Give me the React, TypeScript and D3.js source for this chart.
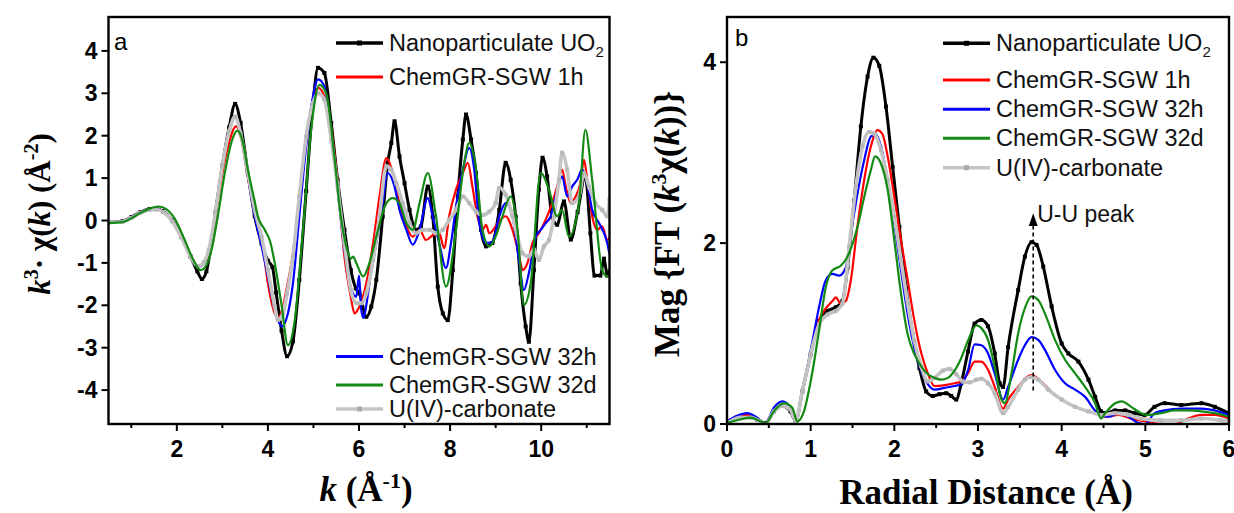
import React from 'react';
import * as d3 from 'd3';

type Pt = [number, number];

// ---------- Series meta ----------
const seriesLabels = ['Nanoparticulate UO', 'ChemGR-SGW 1h', 'ChemGR-SGW 32h', 'ChemGR-SGW 32d', 'U(IV)-carbonate'];
const seriesColors = ['#000000', '#ff0000', '#0000ff', '#138a13', '#c4c4c4'];
const seriesWidths = [3, 2.2, 2.2, 2.2, 3.6];

// ---------- Panel a: k^3 chi(k) ----------
const chiBlack: Pt[] = [[0.5,-0.04],[0.8,-0.02],[1.0,0.08],[1.2,0.2],[1.4,0.27],[1.55,0.28],[1.7,0.22],[1.9,0.0],[2.1,-0.38],[2.3,-0.85],[2.45,-1.2],[2.55,-1.38],[2.65,-1.2],[2.75,-0.6],[2.85,0.2],[3.0,1.3],[3.15,2.2],[3.28,2.75],[3.4,2.3],[3.56,1.12],[3.71,0.1],[3.86,-0.54],[4.0,-0.95],[4.1,-1.1],[4.18,-1.7],[4.3,-2.6],[4.42,-3.2],[4.55,-2.85],[4.69,-1.4],[4.84,0.7],[4.99,2.77],[5.1,3.6],[5.24,3.48],[5.39,2.3],[5.53,0.96],[5.68,-0.22],[5.82,-1.17],[5.93,-1.6],[6.01,-1.72],[6.16,-2.27],[6.27,-2.03],[6.38,-1.4],[6.52,0.09],[6.63,1.36],[6.71,1.83],[6.78,2.34],[6.89,1.51],[7.0,0.88],[7.11,0.25],[7.25,-0.22],[7.36,-0.14],[7.51,0.8],[7.62,0.09],[7.73,-1.56],[7.84,-2.19],[7.95,-2.35],[8.06,-1.17],[8.17,0.57],[8.28,1.91],[8.35,2.5],[8.46,1.91],[8.57,1.12],[8.68,-0.22],[8.79,-0.61],[8.93,-0.53],[9.08,0.25],[9.22,1.36],[9.33,0.96],[9.44,0.09],[9.55,-1.48],[9.66,-2.5],[9.73,-2.86],[9.84,-1.17],[9.95,0.73],[10.03,1.48],[10.13,1.04],[10.24,0.1],[10.35,-0.1],[10.5,0.45],[10.65,-0.45],[10.8,0.2],[10.97,1.05],[11.08,-0.3],[11.17,-1.3],[11.3,-1.3],[11.38,-0.9],[11.45,-1.3],[11.5,-1.2]];
const chiRed: Pt[] = [[0.5,-0.04],[0.8,-0.02],[1.0,0.08],[1.2,0.2],[1.4,0.27],[1.55,0.28],[1.7,0.22],[1.9,0.0],[2.1,-0.38],[2.3,-0.82],[2.47,-1.08],[2.6,-1.0],[2.7,-0.75],[2.85,0.1],[3.0,1.1],[3.15,1.85],[3.3,2.22],[3.42,1.9],[3.56,1.0],[3.71,0.3],[3.86,-0.38],[4.0,-1.48],[4.15,-2.19],[4.22,-2.3],[4.33,-2.03],[4.42,-1.56],[4.55,-0.77],[4.69,0.6],[4.84,1.98],[4.99,2.8],[5.1,3.13],[5.24,2.93],[5.39,2.2],[5.53,0.9],[5.68,-0.85],[5.82,-1.8],[5.9,-2.19],[6.01,-2.03],[6.16,-1.48],[6.31,-0.53],[6.45,0.57],[6.6,1.47],[6.74,1.12],[6.89,0.41],[7.04,-0.14],[7.18,-0.38],[7.33,-0.22],[7.47,-0.46],[7.62,-0.35],[7.76,-0.3],[7.87,-0.65],[7.98,0.1],[8.13,0.73],[8.28,1.12],[8.39,1.36],[8.49,0.8],[8.6,0.1],[8.71,-0.22],[8.79,-0.1],[8.86,-0.3],[9.0,-0.14],[9.11,0.02],[9.22,0.1],[9.37,-0.22],[9.52,-0.85],[9.59,-1.17],[9.7,-1.0],[9.81,-0.53],[9.95,-0.3],[10.1,0.02],[10.24,0.41],[10.35,0.8],[10.46,1.2],[10.54,0.8],[10.65,0.41],[10.76,0.57],[10.86,0.88],[10.94,1.43],[11.01,0.96],[11.12,0.1],[11.23,-0.22],[11.34,-0.14],[11.45,-0.46],[11.5,-0.4]];
const chiBlue: Pt[] = [[0.5,-0.04],[0.8,-0.02],[1.0,0.08],[1.2,0.2],[1.4,0.27],[1.55,0.28],[1.7,0.22],[1.9,0.0],[2.1,-0.38],[2.3,-0.82],[2.47,-1.1],[2.6,-1.0],[2.7,-0.7],[2.85,0.2],[3.0,1.3],[3.15,2.1],[3.28,2.45],[3.4,2.1],[3.56,1.05],[3.71,0.1],[3.86,-0.6],[4.0,-1.32],[4.15,-2.1],[4.25,-2.42],[4.3,-2.5],[4.42,-2.27],[4.55,-1.48],[4.69,0.1],[4.84,1.75],[4.99,2.93],[5.1,3.33],[5.24,3.17],[5.39,2.14],[5.53,0.73],[5.68,-0.69],[5.8,-1.5],[5.94,-1.8],[6.0,-1.3],[6.05,-2.1],[6.1,-2.3],[6.16,-2.0],[6.23,-1.48],[6.38,-0.53],[6.52,0.41],[6.63,1.12],[6.78,0.8],[6.89,0.25],[7.04,-0.22],[7.18,-0.57],[7.33,-0.22],[7.51,0.53],[7.62,0.09],[7.76,-0.53],[7.91,-1.12],[8.02,-0.53],[8.13,0.33],[8.28,1.2],[8.42,1.71],[8.53,1.2],[8.64,-0.06],[8.79,-0.53],[8.93,-0.5],[9.08,0.1],[9.22,0.41],[9.37,0.1],[9.52,-1.0],[9.62,-1.64],[9.73,-1.24],[9.88,-0.38],[9.99,-0.22],[10.1,-0.06],[10.21,0.1],[10.32,0.57],[10.46,1.04],[10.57,0.57],[10.68,0.8],[10.79,0.96],[10.9,1.2],[11.01,0.88],[11.12,0.25],[11.27,-0.06],[11.45,-0.53],[11.5,-0.8]];
const chiGreen: Pt[] = [[0.5,-0.06],[0.8,-0.04],[1.0,0.05],[1.2,0.18],[1.4,0.28],[1.6,0.33],[1.75,0.28],[1.95,0.05],[2.15,-0.4],[2.35,-0.9],[2.52,-1.17],[2.65,-1.05],[2.75,-0.75],[2.9,0.1],[3.05,1.1],[3.2,1.85],[3.33,2.12],[3.45,1.85],[3.56,1.2],[3.7,0.5],[3.78,0.1],[3.93,-0.22],[4.05,-0.5],[4.15,-1.0],[4.3,-2.0],[4.44,-2.94],[4.58,-2.43],[4.77,-0.22],[4.95,2.14],[5.13,3.2],[5.28,3.0],[5.46,1.5],[5.6,0.1],[5.72,-0.6],[5.82,-0.9],[5.87,-0.85],[5.94,-1.0],[6.09,-1.32],[6.23,-1.0],[6.38,-0.38],[6.6,0.41],[6.74,0.53],[6.89,0.41],[7.04,-0.06],[7.18,-0.22],[7.33,0.41],[7.51,1.12],[7.69,0.1],[7.91,-1.56],[8.13,-0.22],[8.31,1.36],[8.42,1.83],[8.57,1.2],[8.71,-0.22],[8.86,-0.61],[9.0,-0.38],[9.15,0.1],[9.33,0.57],[9.48,-0.22],[9.62,-1.99],[9.77,-1.48],[9.99,1.12],[10.17,0.73],[10.35,0.1],[10.46,0.25],[10.61,-0.38],[10.83,0.41],[10.97,2.14],[11.12,0.96],[11.34,-1.17],[11.45,-1.32],[11.5,-1.3]];
const chiGray: Pt[] = [[0.5,-0.04],[0.8,-0.03],[1.0,0.06],[1.2,0.18],[1.4,0.25],[1.55,0.26],[1.7,0.2],[1.9,-0.02],[2.1,-0.4],[2.3,-0.85],[2.47,-1.08],[2.6,-0.98],[2.7,-0.7],[2.85,0.2],[3.0,1.3],[3.15,2.1],[3.28,2.45],[3.4,2.05],[3.56,1.12],[3.71,0.25],[3.86,-0.38],[4.0,-1.17],[4.15,-2.03],[4.22,-2.35],[4.33,-2.19],[4.42,-1.72],[4.55,-0.85],[4.69,0.57],[4.84,1.98],[4.99,2.77],[5.1,3.0],[5.24,2.85],[5.39,1.91],[5.53,0.8],[5.68,-0.53],[5.82,-1.64],[5.95,-1.95],[6.06,-1.95],[6.16,-1.72],[6.31,-0.93],[6.45,0.1],[6.6,1.28],[6.71,1.2],[6.82,0.88],[6.96,0.41],[7.11,-0.06],[7.25,-0.3],[7.4,-0.22],[7.55,-0.22],[7.69,-0.3],[7.84,-0.22],[7.98,0.02],[8.13,0.25],[8.28,0.57],[8.42,0.41],[8.57,0.21],[8.71,0.13],[8.86,0.21],[9.0,0.41],[9.08,0.77],[9.22,0.61],[9.37,0.1],[9.48,-0.38],[9.59,-0.77],[9.73,-0.85],[9.84,-0.69],[9.95,-0.93],[10.06,-0.61],[10.17,-0.46],[10.28,0.1],[10.39,0.96],[10.46,1.6],[10.57,1.2],[10.68,0.41],[10.83,0.57],[10.94,1.12],[11.05,0.8],[11.19,0.41],[11.34,0.25],[11.45,0.1],[11.5,0.5]];

// ---------- Panel b: |FT| ----------
const ftBlack: Pt[] = [[0,0.03],[0.12,0.07],[0.24,0.09],[0.36,0.05],[0.46,0.01],[0.56,0.14],[0.66,0.2],[0.76,0.14],[0.82,0.03],[0.9,0.36],[1.0,0.77],[1.1,1.14],[1.2,1.25],[1.3,1.29],[1.38,1.36],[1.44,1.73],[1.52,2.47],[1.6,3.29],[1.68,3.84],[1.75,4.05],[1.82,3.96],[1.9,3.51],[1.98,2.84],[2.06,2.18],[2.14,1.51],[2.22,0.99],[2.3,0.62],[2.38,0.36],[2.46,0.31],[2.54,0.33],[2.62,0.34],[2.68,0.31],[2.74,0.27],[2.8,0.45],[2.88,0.8],[2.96,1.11],[3.04,1.15],[3.12,1.08],[3.2,0.78],[3.26,0.45],[3.3,0.41],[3.36,0.85],[3.48,1.48],[3.56,1.85],[3.64,2.01],[3.7,1.98],[3.78,1.74],[3.88,1.3],[4.0,0.89],[4.08,0.78],[4.2,0.69],[4.32,0.49],[4.4,0.3],[4.47,0.14],[4.52,0.12],[4.64,0.15],[4.76,0.15],[4.87,0.12],[4.99,0.1],[5.11,0.19],[5.23,0.23],[5.43,0.21],[5.67,0.23],[5.83,0.19],[6.0,0.12]];
const ftRed: Pt[] = [[0,0.03],[0.12,0.07],[0.24,0.1],[0.36,0.06],[0.46,0.01],[0.56,0.15],[0.66,0.21],[0.76,0.15],[0.82,0.03],[0.9,0.36],[1.0,0.78],[1.1,1.15],[1.2,1.3],[1.26,1.36],[1.3,1.4],[1.36,1.33],[1.42,1.36],[1.48,1.59],[1.56,2.19],[1.64,2.7],[1.72,3.07],[1.8,3.25],[1.86,3.2],[1.92,2.96],[2.0,2.51],[2.08,2.03],[2.16,1.59],[2.24,1.14],[2.32,0.79],[2.4,0.56],[2.48,0.42],[2.6,0.43],[2.72,0.45],[2.8,0.47],[2.88,0.56],[2.96,0.69],[3.04,0.69],[3.12,0.6],[3.2,0.41],[3.3,0.17],[3.36,0.27],[3.48,0.41],[3.56,0.5],[3.64,0.54],[3.72,0.5],[3.8,0.43],[3.92,0.32],[4.04,0.25],[4.16,0.19],[4.28,0.15],[4.4,0.12],[4.52,0.08],[4.68,0.1],[4.83,0.06],[4.99,0.03],[5.19,0.0],[5.35,0.0],[5.51,0.06],[5.67,0.1],[5.83,0.1],[6.0,0.06]];
const ftBlue: Pt[] = [[0,0.03],[0.12,0.09],[0.24,0.12],[0.36,0.07],[0.46,0.01],[0.56,0.18],[0.66,0.25],[0.76,0.18],[0.82,0.03],[0.9,0.36],[1.0,0.81],[1.1,1.29],[1.18,1.59],[1.26,1.66],[1.34,1.64],[1.42,1.73],[1.48,2.1],[1.56,2.55],[1.64,2.92],[1.72,3.18],[1.78,3.2],[1.84,3.07],[1.92,2.7],[2.0,2.21],[2.08,1.7],[2.16,1.21],[2.24,0.84],[2.32,0.59],[2.4,0.44],[2.48,0.38],[2.6,0.4],[2.72,0.42],[2.8,0.44],[2.88,0.59],[2.96,0.88],[3.04,0.87],[3.12,0.78],[3.2,0.56],[3.3,0.27],[3.36,0.41],[3.48,0.71],[3.56,0.87],[3.64,0.96],[3.72,0.93],[3.8,0.82],[3.92,0.6],[4.04,0.45],[4.16,0.38],[4.28,0.3],[4.4,0.15],[4.47,0.1],[4.56,0.08],[4.68,0.12],[4.8,0.08],[4.92,0.01],[5.0,0.0],[5.11,0.12],[5.23,0.15],[5.43,0.17],[5.67,0.17],[5.83,0.15],[6.0,0.1]];
const ftGreen: Pt[] = [[0,0.01],[0.16,0.05],[0.28,0.07],[0.4,0.03],[0.46,0.01],[0.56,0.14],[0.68,0.23],[0.78,0.18],[0.84,0.03],[0.92,0.14],[1.0,0.47],[1.1,1.03],[1.18,1.51],[1.26,1.7],[1.36,1.75],[1.44,1.85],[1.56,2.18],[1.64,2.51],[1.72,2.81],[1.77,2.96],[1.84,2.88],[1.92,2.59],[2.0,2.03],[2.08,1.44],[2.16,0.99],[2.24,0.77],[2.32,0.64],[2.4,0.55],[2.48,0.51],[2.56,0.49],[2.64,0.51],[2.72,0.59],[2.8,0.73],[2.88,0.92],[2.98,1.09],[3.04,1.06],[3.12,0.93],[3.2,0.63],[3.28,0.27],[3.32,0.23],[3.4,0.56],[3.48,1.0],[3.56,1.28],[3.64,1.41],[3.72,1.37],[3.8,1.22],[3.92,0.93],[4.04,0.71],[4.16,0.56],[4.28,0.41],[4.4,0.23],[4.47,0.06],[4.52,0.12],[4.64,0.23],[4.72,0.25],[4.83,0.19],[4.95,0.12],[5.03,0.1],[5.19,0.12],[5.35,0.15],[5.51,0.15],[5.67,0.14],[5.83,0.12],[6.0,0.08]];
const ftGray: Pt[] = [[0,0.01],[0.16,0.07],[0.28,0.07],[0.4,0.03],[0.46,0.0],[0.56,0.14],[0.66,0.2],[0.76,0.16],[0.82,0.03],[0.9,0.36],[1.0,0.77],[1.1,1.1],[1.2,1.21],[1.3,1.25],[1.38,1.33],[1.46,1.96],[1.54,2.62],[1.62,3.07],[1.7,3.23],[1.76,3.21],[1.84,3.03],[1.92,2.7],[2.0,2.29],[2.08,1.81],[2.16,1.33],[2.24,0.92],[2.32,0.64],[2.4,0.47],[2.48,0.51],[2.58,0.59],[2.66,0.61],[2.74,0.55],[2.82,0.47],[2.9,0.46],[2.98,0.49],[3.04,0.5],[3.12,0.45],[3.2,0.34],[3.3,0.12],[3.36,0.19],[3.48,0.38],[3.56,0.49],[3.64,0.52],[3.72,0.49],[3.84,0.38],[4.0,0.27],[4.16,0.19],[4.32,0.14],[4.48,0.1],[4.64,0.12],[4.8,0.1],[4.95,0.06],[5.19,0.04],[5.43,0.04],[5.67,0.06],[5.91,0.04],[6.0,0.03]];

// ---------- Axes ticks ----------
const aXMajor = [2, 4, 6, 8, 10];
const aXMinor = [1, 3, 5, 7, 9, 11];
const aYMajor = [-4, -3, -2, -1, 0, 1, 2, 3, 4];
const bXMajor = [0, 1, 2, 3, 4, 5, 6];
const bXMinor = [0.5, 1.5, 2.5, 3.5, 4.5, 5.5];
const bYMajor = [0, 2, 4];
const uuPeakR = 3.66;

const SANS = "Arial, 'Liberation Sans', Helvetica, sans-serif";
const SERIF = "'Times New Roman', 'Liberation Serif', Times, serif";

const drawOrder = [0, 1, 2, 4, 3];

interface PanelProps {
  id: string;
  data: Pt[][];
  xDomain: [number, number];
  yDomain: [number, number];
  box: { l: number; r: number; t: number; b: number };
  xMajor: number[];
  xMinor: number[];
  yMajor: number[];
}

function Panel({ id, data, xDomain, yDomain, box, xMajor, xMinor, yMajor }: PanelProps) {
  const x = d3.scaleLinear().domain(xDomain).range([box.l, box.r]);
  const y = d3.scaleLinear().domain(yDomain).range([box.b, box.t]);
  const line = d3.line<Pt>().x(d => x(d[0])).y(d => y(d[1])).curve(d3.curveMonotoneX);
  const clipId = `clip-${id}`;
  return (
    <g>
      <defs>
        <clipPath id={clipId}>
          <rect x={box.l} y={box.t} width={box.r - box.l} height={box.b - box.t} />
        </clipPath>
      </defs>
      <g clipPath={`url(#${clipId})`}>
        {drawOrder.map(i => (
          <g key={i}>
            <path d={line(data[i]) || ''} fill="none" stroke={seriesColors[i]} strokeWidth={seriesWidths[i]} strokeLinejoin="round" />
            {(i === 0 || i === 4) && data[i].map((p, j) => (
              <rect key={j} x={x(p[0]) - 2} y={y(p[1]) - 2} width={4} height={4} fill={i === 0 ? '#000' : '#b8b8b8'} />
            ))}
          </g>
        ))}
      </g>
      <rect x={box.l} y={box.t} width={box.r - box.l} height={box.b - box.t} fill="none" stroke="#000" strokeWidth={2.4} />
      {xMajor.map(v => (
        <g key={'xm' + v}>
          <line x1={x(v)} x2={x(v)} y1={box.b} y2={box.b + 7} stroke="#000" strokeWidth={2} />
          <text x={x(v)} y={box.b + 33} textAnchor="middle" fontFamily={SANS} fontWeight="bold" fontSize={23}>{String(v)}</text>
        </g>
      ))}
      {xMinor.map(v => (
        <line key={'xn' + v} x1={x(v)} x2={x(v)} y1={box.b} y2={box.b + 4} stroke="#000" strokeWidth={2} />
      ))}
      {yMajor.map(v => (
        <g key={'ym' + v}>
          <line x1={box.l - 7} x2={box.l} y1={y(v)} y2={y(v)} stroke="#000" strokeWidth={2} />
          <text x={box.l - 11} y={y(v) + 8} textAnchor="end" fontFamily={SANS} fontWeight="bold" fontSize={23}>{String(v)}</text>
        </g>
      ))}
    </g>
  );
}

function LegendRow({ x1, x2, tx, cy, i }: { x1: number; x2: number; tx: number; cy: number; i: number }) {
  const mid = (x1 + x2) / 2;
  return (
    <g>
      <line x1={x1} x2={x2} y1={cy} y2={cy} stroke={seriesColors[i]} strokeWidth={i === 0 || i === 4 ? 3.4 : 3} />
      {(i === 0 || i === 4) && <rect x={mid - 2.5} y={cy - 2.5} width={5} height={5} fill={i === 0 ? '#000' : '#aaa'} />}
      <text x={tx} y={cy + 8} fontFamily={SANS} fontSize={23.5} fill="#111">
        {seriesLabels[i]}
        {i === 0 && <tspan fontSize={15} dy={6}>2</tspan>}
      </text>
    </g>
  );
}

export default function App() {
  const boxA = { l: 108.5, r: 609.5, t: 17, b: 424 };
  const boxB = { l: 727, r: 1229, t: 17, b: 424 };
  const xB = d3.scaleLinear().domain([0, 6]).range([boxB.l, boxB.r]);
  const yB = d3.scaleLinear().domain([0, 4.5]).range([boxB.b, boxB.t]);
  const ax = xB(uuPeakR);
  return (
    <svg width={1234} height={513} viewBox="0 0 1234 513" style={{ display: 'block', position: 'absolute', left: 0, top: 0, background: '#fff' }}>
      <rect width={1234} height={513} fill="#fff" />
      <Panel id="a" data={[chiBlack, chiRed, chiBlue, chiGreen, chiGray]} xDomain={[0.5, 11.5]} yDomain={[-4.8, 4.8]}
        box={boxA} xMajor={aXMajor} xMinor={aXMinor} yMajor={aYMajor} />
      <Panel id="b" data={[ftBlack, ftRed, ftBlue, ftGreen, ftGray]} xDomain={[0, 6]} yDomain={[0, 4.5]}
        box={boxB} xMajor={bXMajor} xMinor={bXMinor} yMajor={bYMajor} />

      {/* panel letters */}
      <text x={114} y={50} fontFamily={SANS} fontSize={24}>a</text>
      <text x={735} y={46} fontFamily={SANS} fontSize={24}>b</text>

      {/* legends panel a */}
      <LegendRow x1={336} x2={383} tx={389} cy={43} i={0} />
      <LegendRow x1={336} x2={383} tx={389} cy={77} i={1} />
      <LegendRow x1={336} x2={383} tx={389} cy={356.5} i={2} />
      <LegendRow x1={336} x2={383} tx={389} cy={385} i={3} />
      <LegendRow x1={336} x2={383} tx={389} cy={409} i={4} />

      {/* legends panel b */}
      <LegendRow x1={943} x2={990} tx={996} cy={43.3} i={0} />
      <LegendRow x1={943} x2={990} tx={996} cy={80} i={1} />
      <LegendRow x1={943} x2={990} tx={996} cy={109.3} i={2} />
      <LegendRow x1={943} x2={990} tx={996} cy={138.3} i={3} />
      <LegendRow x1={943} x2={990} tx={996} cy={167.7} i={4} />

      {/* U-U peak annotation */}
      <line x1={ax} x2={ax} y1={yB(0.37)} y2={yB(2.22)} stroke="#000" strokeWidth={1.6} strokeDasharray="4,3" />
      <path d={`M${ax},${yB(2.33)} L${ax - 4.5},${yB(2.19)} L${ax + 4.5},${yB(2.19)} Z`} fill="#000" />
      <text x={ax + 4} y={yB(2.28) + 4} fontFamily={SANS} fontSize={23} fill="#111">U-U peak</text>

      {/* axis titles */}
      <text transform="translate(50,214) rotate(-90)" textAnchor="middle" fontFamily={SERIF} fontWeight="bold" fontSize={31}>
        <tspan fontStyle="italic">k</tspan>
        <tspan fontSize={20} dy={-12}>3</tspan>
        <tspan dy={12}>· χ(</tspan>
        <tspan fontStyle="italic">k</tspan>
        <tspan>) (Å</tspan>
        <tspan fontSize={20} dy={-12}>-2</tspan>
        <tspan dy={12}>)</tspan>
      </text>
      <text x={366} y={501} textAnchor="middle" fontFamily={SERIF} fontWeight="bold" fontSize={35}>
        <tspan fontStyle="italic">k</tspan>
        <tspan> (Å</tspan>
        <tspan fontSize={22} dy={-13}>-1</tspan>
        <tspan dy={13}>)</tspan>
      </text>
      <text transform="translate(679,224) rotate(-90)" textAnchor="middle" fontFamily={SERIF} fontWeight="bold" fontSize={35}>
        <tspan>Mag {'{'}FT (</tspan>
        <tspan fontStyle="italic">k</tspan>
        <tspan fontSize={22} dy={-13}>3</tspan>
        <tspan dy={13}>χ(</tspan>
        <tspan fontStyle="italic">k</tspan>
        <tspan>)){'}'}</tspan>
      </text>
      <text x={986} y={504} textAnchor="middle" fontFamily={SERIF} fontWeight="bold" fontSize={35}>Radial Distance (Å)</text>
    </svg>
  );
}
